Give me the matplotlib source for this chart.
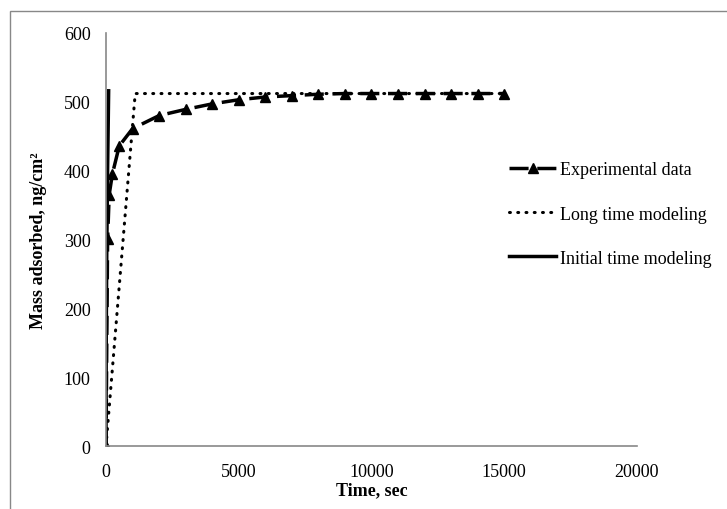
import matplotlib.pyplot as plt
from matplotlib.patches import Rectangle

# Experimental adsorption data
exp_time = [0, 60, 120, 240, 500, 1000, 2000, 3000, 4000, 5000, 6000, 7000,
            8000, 9000, 10000, 11000, 12000, 13000, 14000, 15000]
exp_mass = [0, 300, 365, 395, 436, 461, 480, 489, 497, 503, 507, 509,
            511, 512, 512, 512, 512, 512, 512, 512]

# Long time model
long_time = [0, 1100, 15000]
long_mass = [0, 512, 512]

# Initial time model
init_time = [0, 10, 30, 60, 100]
init_mass = [0, 165, 285, 400, 516]

plt.rcParams['font.family'] = ['Liberation Serif', 'DejaVu Serif']
plt.rcParams['font.size'] = 13

fig = plt.figure(figsize=(7.27, 5.10), dpi=100)
ax = fig.add_axes([0.1458, 0.1235, 0.7304, 0.8099])

ax.plot(exp_time, exp_mass, color='black', lw=2.5, dashes=(5.5, 2.5),
        marker='^', markersize=7.5, label='Experimental data')
ax.plot(long_time, long_mass, color='black', lw=2.2, linestyle=(0, (0.3, 2.4)),
        dash_capstyle='round', label='Long time modeling')
ax.plot(init_time, init_mass, color='black', lw=2.5, label='Initial time modeling')

ax.set_xlim(0, 20000)
ax.set_ylim(0, 600)
ax.set_xticks(range(0, 20001, 5000))
ax.set_yticks(range(0, 601, 100))
ax.tick_params(axis='x', length=0, pad=12)
ax.tick_params(axis='y', length=0, pad=11)
for side in ['top', 'right']:
    ax.spines[side].set_visible(False)
for side in ['left', 'bottom']:
    ax.spines[side].set_color('#888888')
    ax.spines[side].set_linewidth(1.2)

ax.set_xlabel('Time, sec', fontweight='bold', labelpad=1)
ax.set_ylabel('Mass adsorbed, ng/cm²', fontweight='bold', labelpad=12)

ax.legend(loc='center left', bbox_to_anchor=(500 / 727, 1 - 215 / 510),
          bbox_transform=fig.transFigure, frameon=False,
          handlelength=2.6, handletextpad=0.2, labelspacing=1.5, borderpad=0)

# outer chart border
fig.patches.append(Rectangle((10 / 727, -0.01), 1.0, 1 - 12 / 510 + 0.01,
                             transform=fig.transFigure, fill=False,
                             edgecolor='#888888', lw=1))

fig.savefig('out.png', dpi=100)
